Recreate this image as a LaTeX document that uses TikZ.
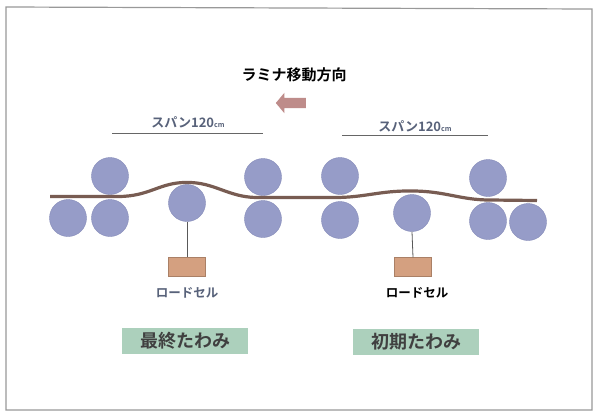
\documentclass[tikz,border=0pt]{standalone}
\usepackage{fontspec}
\newfontfamily\jp{Noto Sans CJK JP}
\newfontfamily\jpbold{Noto Sans CJK JP Bold}
\usetikzlibrary{shapes.arrows}
\definecolor{rollfill}{RGB}{150,156,200}
\definecolor{rolledge}{RGB}{132,138,184}
\definecolor{boardcol}{RGB}{120,92,82}
\definecolor{cellcol}{RGB}{212,160,128}
\definecolor{spancol}{RGB}{88,98,122}
\definecolor{tagfill}{RGB}{172,208,188}
\definecolor{arrowcol}{RGB}{190,140,138}
\tikzset{
  roll/.style={circle, minimum size=37pt, inner sep=0pt, fill=rollfill, draw=rolledge, line width=0.4pt},
  loadcell/.style={minimum width=37pt, minimum height=19pt, inner sep=0pt, fill=cellcol, draw=cellcol!80!black, line width=0.3pt},
  hanger/.style={draw=gray!70!black, line width=0.8pt},
  spanline/.style={draw=gray!80!black, line width=0.9pt},
  spanlabel/.style={font=\jpbold\fontsize{13}{13}\selectfont, text=spancol},
  tag/.style={fill=tagfill, minimum width=126pt, minimum height=26pt, inner sep=0pt, font=\jpbold\fontsize{18}{18}\selectfont, text=black!75},
}
\begin{document}
\begin{tikzpicture}[x=1pt, y=-1pt]
  \useasboundingbox (0,0) rectangle (595,413);
  \fill[white] (0,0) rectangle (595,413);
  % outer frame
  \draw[gray!80, line width=1.2pt] (6,7) -- (592,9) -- (592,410) -- (6,410) -- cycle;

  % direction of travel
  \node[font=\jpbold\fontsize{15}{15}\selectfont] (title) at (294,75) {ラミナ移動方向};
  \node[single arrow, shape border rotate=180, fill=arrowcol, minimum height=30pt,
        inner xsep=0pt, inner ysep=5pt, single arrow head extend=5pt,
        single arrow tip angle=100] (dir) at (293,103) {};

  % spans
  \node[spanlabel] (spanL) at (188,122) {スパン120{\fontsize{7}{7}\selectfont cm}};
  \node[spanlabel] (spanR) at (415,126) {スパン120{\fontsize{7}{7}\selectfont cm}};
  \coordinate (sL1) at (112,133); \coordinate (sL2) at (263,133);
  \coordinate (sR1) at (342,135); \coordinate (sR2) at (488,135);
  \draw[spanline] (sL1) -- (sL2);
  \draw[spanline] (sR1) -- (sR2);

  % rolls
  \node[roll] (r1) at (68,218) {};
  \node[roll] (r2u) at (110,176) {};
  \node[roll] (r2d) at (110,218) {};
  \node[roll] (r3) at (187,203) {};
  \node[roll] (r4u) at (263,177) {};
  \node[roll] (r4d) at (263,219) {};
  \node[roll] (r5u) at (340,176) {};
  \node[roll] (r5d) at (340,220) {};
  \node[roll] (r6) at (412,213) {};
  \node[roll] (r7u) at (488,178) {};
  \node[roll] (r7d) at (488,221) {};
  \node[roll] (r8) at (528,222) {};

  % lamina
  \draw[boardcol, line width=3.2pt, line cap=butt]
    (50,196.5) -- (118,196.5)
    .. controls (150,196.5) and (160,182) .. (187,182.5)
    .. controls (214,182) and (228,197) .. (256,197.5)
    -- (335,197.5)
    .. controls (365,197.5) and (380,190.5) .. (412,191)
    .. controls (445,191) and (460,200) .. (490,200)
    -- (537,200.5);

  % load cells
  \node[loadcell] (c1) at (187,267) {};
  \node[loadcell] (c2) at (413,267) {};
  \draw[hanger] (r3.south) -- (c1.north);
  \draw[hanger] (r6.south) -- (c2.north);
  \node[font=\jpbold\fontsize{12.5}{12.5}\selectfont, text=spancol] (lc1) at (187,293) {ロードセル};
  \node[font=\jpbold\fontsize{12.5}{12.5}\selectfont] (lc2) at (417,293) {ロードセル};

  % deflection tags
  \node[tag] (t1) at (185,341) {最終たわみ};
  \node[tag] (t2) at (416,342) {初期たわみ};
\end{tikzpicture}
\end{document}
